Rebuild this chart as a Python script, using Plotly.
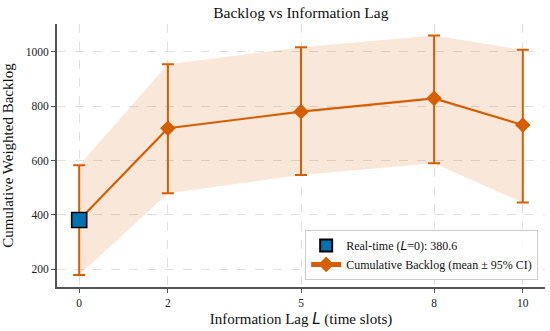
import plotly.graph_objects as go

lags = [0, 2, 5, 8, 10]
mean_backlog = [380.6, 719, 780, 829, 731]
ci_upper = [583, 955, 1017, 1061, 1008]
ci_lower = [178, 479, 547, 590, 445]
realtime_lag = [0]
realtime_value = [380.6]
tick_vals = [0, 2, 5, 8, 10]
y_ticks = [200, 400, 600, 800, 1000]

ORANGE = "#D55E00"
BLUE = "#0072B2"
SERIF = "Liberation Serif, Times New Roman, serif"
LSPAN = '<span style="font-family:DejaVu Sans"><i>L</i></span>'

err_plus = [u - m for u, m in zip(ci_upper, mean_backlog)]
err_minus = [m - l for m, l in zip(mean_backlog, ci_lower)]

fig = go.Figure()
fig.add_trace(go.Scatter(
    x=lags + lags[::-1], y=ci_upper + ci_lower[::-1],
    fill="toself", fillcolor="rgba(213,94,0,0.15)", line=dict(width=0),
    mode="lines", showlegend=False, hoverinfo="skip"))
fig.add_trace(go.Scatter(
    x=lags, y=mean_backlog, mode="lines+markers",
    name="Cumulative Backlog (mean ± 95% CI)",
    line=dict(color=ORANGE, width=2.2),
    marker=dict(symbol="diamond", size=12, color=ORANGE),
    error_y=dict(type="data", symmetric=False, array=err_plus, arrayminus=err_minus,
                 color=ORANGE, thickness=2, width=6),
    legendrank=2))
fig.add_trace(go.Scatter(
    x=realtime_lag, y=realtime_value, mode="markers",
    name="Real-time (" + LSPAN + "=0): 380.6",
    marker=dict(symbol="square", size=15, color=BLUE, line=dict(color="black", width=1.6)),
    legendrank=1))

fig.update_layout(
    width=550, height=331,
    margin=dict(l=57, r=5, t=24, b=44),
    paper_bgcolor="white", plot_bgcolor="white",
    font=dict(family=SERIF, color="#222"),
    title=dict(text="Backlog vs Information Lag", x=0.547, xanchor="center",
               y=0.962, yanchor="middle", font=dict(size=15.5, family=SERIF, color="#111")),
    legend=dict(x=0.986, y=0.027, xanchor="right", yanchor="bottom",
                bgcolor="rgba(255,255,255,0.85)", bordercolor="#cccccc", borderwidth=1,
                font=dict(size=12, family=SERIF, color="#111"),
                tracegroupgap=0, itemsizing="constant"),
    showlegend=True,
)
fig.update_xaxes(
    range=[-0.5, 10.5], tickvals=tick_vals, ticks="outside", ticklen=4, tickwidth=1.2,
    tickcolor="#555", showline=True, linecolor="#555", linewidth=1.8,
    showgrid=True, gridcolor="#e0e0e0", griddash="dash", gridwidth=0.8, zeroline=False,
    tickfont=dict(size=11.5, family=SERIF, color="#222"),
    title=dict(text="Information Lag " + LSPAN + " (time slots)", font=dict(size=15, family=SERIF, color="#111"), standoff=6))
fig.update_yaxes(
    range=[134, 1103], tickvals=y_ticks, ticks="outside", ticklen=4, tickwidth=1.2,
    tickcolor="#555", showline=True, linecolor="#555", linewidth=1.8,
    showgrid=True, gridcolor="#e0e0e0", griddash="dash", gridwidth=0.8, zeroline=False,
    tickfont=dict(size=11.5, family=SERIF, color="#222"),
    title=dict(text="Cumulative Weighted Backlog", font=dict(size=15, family=SERIF, color="#111"), standoff=9))

fig.write_html("out.html", config={"displayModeBar": False},
               post_script="document.body.style.margin='0';")
